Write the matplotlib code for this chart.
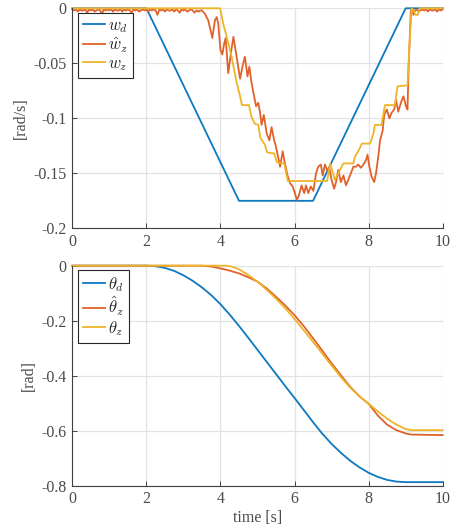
import numpy as np
import matplotlib
matplotlib.use('Agg')
import matplotlib.pyplot as plt

# cores padrão do matlab (um pouco mais claras, como na figura)
c_blue = '#0C78C0'
c_orange = '#E0622A'
c_yellow = '#EEB428'
c_text = '#4a4a4a'

# velocidade desejada w_d
wd_t = [0, 2.0, 4.5, 6.5, 9.0, 10]
wd_v = [0, 0, -0.175, -0.175, 0, 0]

# velocidade estimada (ruido no inicio, em 1e-3 rad/s)
noise_start = [-1, -2, -1, -3, -1, -2, -2, -1, -4, -1, -2, -1, -3, -2, -1, -2, -5, -1, -2, -1,
               -2, -1, -3, -1, -2, -2, -1, -3, -1, -2, -1, -2, -4, -1, -2, -1, -3, -2, -1, -2,
               -1, -3, -1, -2, -1, -2, -6, -1, -2, -1, -3, -1, -2, -2, -1, -3, -1, -2, -4, -1,
               -2, -1, -3, -2, -1, -2, -4, -2, -3, -2]
noise_end = [-1, -3, -2, -1, -2, -1, -3, -1, -2, -2, -1, -3, -1, -2, -1]

wh_t_mid = [3.50, 3.58, 3.67, 3.78, 3.85, 3.90, 3.94, 4.00, 4.05, 4.10, 4.14, 4.21, 4.28, 4.35,
            4.42, 4.53, 4.60, 4.66, 4.73, 4.78, 4.84, 4.91, 4.96, 5.02, 5.07, 5.11, 5.17, 5.25,
            5.32, 5.38, 5.45, 5.50, 5.56, 5.61, 5.68, 5.74, 5.81, 5.88, 5.95, 6.01, 6.06, 6.11,
            6.19, 6.26, 6.31, 6.37, 6.44, 6.51, 6.58, 6.64, 6.71, 6.76, 6.82, 6.89, 6.94, 7.00,
            7.07, 7.12, 7.18, 7.25, 7.32, 7.39, 7.45, 7.52, 7.59, 7.66, 7.72, 7.79, 7.86, 7.93,
            7.97, 8.02, 8.08, 8.15, 8.20, 8.26, 8.31, 8.38, 8.42, 8.49, 8.56, 8.62, 8.69, 8.74,
            8.80, 8.87, 8.94, 9.01, 9.05, 9.08, 9.14, 9.17, 9.21, 9.25]
wh_v_mid = [-0.002, -0.005, -0.011, -0.027, -0.011, -0.008, -0.014, -0.038, -0.042, -0.032,
            -0.027, -0.059, -0.041, -0.026, -0.041, -0.064, -0.052, -0.044, -0.062, -0.053,
            -0.068, -0.080, -0.089, -0.086, -0.095, -0.106, -0.097, -0.114, -0.120, -0.108,
            -0.120, -0.126, -0.136, -0.144, -0.130, -0.141, -0.152, -0.159, -0.162, -0.168,
            -0.174, -0.171, -0.161, -0.168, -0.161, -0.168, -0.162, -0.166, -0.150, -0.144,
            -0.142, -0.152, -0.142, -0.148, -0.145, -0.156, -0.164, -0.158, -0.147, -0.158,
            -0.152, -0.161, -0.156, -0.150, -0.144, -0.144, -0.142, -0.145, -0.142, -0.138,
            -0.133, -0.144, -0.153, -0.158, -0.150, -0.135, -0.120, -0.111, -0.097, -0.092,
            -0.100, -0.095, -0.092, -0.083, -0.094, -0.086, -0.080, -0.089, -0.092, -0.053,
            -0.002, 0.000, -0.006, -0.002]

# velocidade medida w_z
wz_t = [0, 3.99, 4.08, 4.17, 4.30, 4.44, 4.53, 4.58, 4.77, 4.84, 4.93, 5.02, 5.08, 5.20, 5.26,
        5.45, 5.52, 5.72, 5.82, 6.88, 6.96, 7.09, 7.32, 7.59, 7.63, 7.72, 7.82, 8.04, 8.13,
        8.17, 8.35, 8.44, 8.71, 8.78, 9.05, 9.10, 9.16, 9.22, 9.27, 9.33, 9.38, 10]
wz_v = [0, 0, -0.015, -0.026, -0.044, -0.068, -0.080, -0.088, -0.088, -0.099, -0.105, -0.106,
        -0.118, -0.124, -0.131, -0.132, -0.140, -0.141, -0.157, -0.157, -0.141, -0.156, -0.141,
        -0.141, -0.135, -0.130, -0.123, -0.123, -0.114, -0.106, -0.106, -0.088, -0.088, -0.071,
        -0.070, -0.036, 0.000, -0.003, -0.006, -0.006, 0.000, 0]

# angulos
th_t = [0, 2.0, 2.25, 2.5, 2.75, 3.0, 3.25, 3.5, 3.75, 4.0, 4.25, 4.5, 4.75, 5.0, 5.25, 5.5,
        5.75, 6.0, 6.25, 6.5, 6.75, 7.0, 7.25, 7.5, 7.75, 8.0, 8.25, 8.5, 8.75, 9.0, 10]
thd_v = [0, 0, -0.002, -0.008, -0.019, -0.035, -0.055, -0.079, -0.107, -0.140, -0.178, -0.219,
         -0.262, -0.306, -0.350, -0.394, -0.438, -0.481, -0.525, -0.569, -0.611, -0.648, -0.680,
         -0.709, -0.733, -0.753, -0.768, -0.779, -0.785, -0.787, -0.787]

thh_t = [0, 3.5, 3.75, 4.0, 4.25, 4.5, 4.75, 5.0, 5.25, 5.5, 5.75, 6.0, 6.25, 6.5, 6.75, 7.0,
         7.25, 7.5, 7.75, 8.0, 8.25, 8.5, 8.75, 9.0, 9.15, 10]
thh_v = [0, 0, -0.003, -0.010, -0.018, -0.028, -0.042, -0.058, -0.083, -0.113, -0.145, -0.180,
         -0.220, -0.264, -0.309, -0.355, -0.398, -0.440, -0.475, -0.502, -0.545, -0.578, -0.598,
         -0.610, -0.614, -0.616]

thz_t = [0, 4.15, 4.3, 4.5, 4.75, 5.0, 5.25, 5.5, 5.75, 6.0, 6.25, 6.5, 6.75, 7.0, 7.25, 7.5,
         7.75, 8.0, 8.25, 8.5, 8.75, 9.0, 9.15, 10]
thz_v = [0, 0, -0.003, -0.013, -0.034, -0.058, -0.088, -0.120, -0.155, -0.194, -0.235, -0.277,
         -0.320, -0.363, -0.405, -0.443, -0.475, -0.502, -0.530, -0.556, -0.578, -0.594, -0.598,
         -0.598]

# junta os pedaços da estimativa
t_ns = np.arange(len(noise_start)) * 0.05
t_ne = 9.30 + np.arange(len(noise_end)) * 0.05
wh_t = np.concatenate([t_ns, wh_t_mid, t_ne])
wh_v = np.concatenate([np.array(noise_start) * 1e-3, wh_v_mid, np.array(noise_end) * 1e-3])

plt.rcParams['font.family'] = 'Liberation Serif'
plt.rcParams['mathtext.fontset'] = 'cm'
plt.rcParams['axes.unicode_minus'] = False

fig = plt.figure(figsize=(4.52, 5.28), dpi=100)
ax1 = fig.add_axes([0.160, 0.5676, 0.8194, 0.4167])
ax2 = fig.add_axes([0.160, 0.0801, 0.8194, 0.4167])

lw = 1.3
ax1.plot(wd_t, wd_v, color=c_blue, lw=lw, label=r'$w_d$', clip_on=False)
ax1.plot(wh_t, wh_v, color=c_orange, lw=lw, label=r'$\hat{w}_z$', clip_on=False)
ax1.plot(wz_t, wz_v, color=c_yellow, lw=lw, label=r'$w_z$', clip_on=False)
ax1.set_ylim(-0.2, 0)
ax1.set_yticks([0, -0.05, -0.1, -0.15, -0.2])
ax1.set_yticklabels(['0', '-0.05', '-0.1', '-0.15', '-0.2'])
ax1.set_ylabel('[rad/s]', color=c_text, fontsize=11.5, labelpad=3)

ax2.plot(th_t, thd_v, color=c_blue, lw=lw, label=r'$\theta_d$', clip_on=False)
ax2.plot(thh_t, thh_v, color=c_orange, lw=lw, label=r'$\hat{\theta}_z$', clip_on=False)
ax2.plot(thz_t, thz_v, color=c_yellow, lw=lw, label=r'$\theta_z$', clip_on=False)
ax2.set_ylim(-0.8, 0)
ax2.set_yticks([0, -0.2, -0.4, -0.6, -0.8])
ax2.set_yticklabels(['0', '-0.2', '-0.4', '-0.6', '-0.8'])
ax2.set_ylabel('[rad]', color=c_text, fontsize=11.5, labelpad=3)
ax2.set_xlabel('time [s]', color=c_text, fontsize=11.5, labelpad=2)

for ax in (ax1, ax2):
    ax.set_xlim(0, 10)
    ax.set_xticks([0, 2, 4, 6, 8, 10])
    ax.grid(True, color='#e3e3e3', lw=0.9)
    ax.set_axisbelow(True)
    ax.spines['top'].set_visible(False)
    ax.spines['right'].set_visible(False)
    for s in ('left', 'bottom'):
        ax.spines[s].set_color('#404040')
        ax.spines[s].set_linewidth(0.8)
    ax.tick_params(direction='in', length=3.5, width=0.7, colors='#404040',
                   labelcolor=c_text, labelsize=11.5, pad=4)
    leg = ax.legend(loc='upper left', bbox_to_anchor=(0.016, 0.98), borderaxespad=0,
                    fontsize=12, handlelength=1.3, handletextpad=0.2, labelspacing=0.05,
                    borderpad=0.3, fancybox=False, framealpha=1, edgecolor='#262626')
    leg.get_frame().set_linewidth(0.8)
    for txt in leg.get_texts():
        txt.set_color('#262626')

fig.savefig('out.png', dpi=100)
